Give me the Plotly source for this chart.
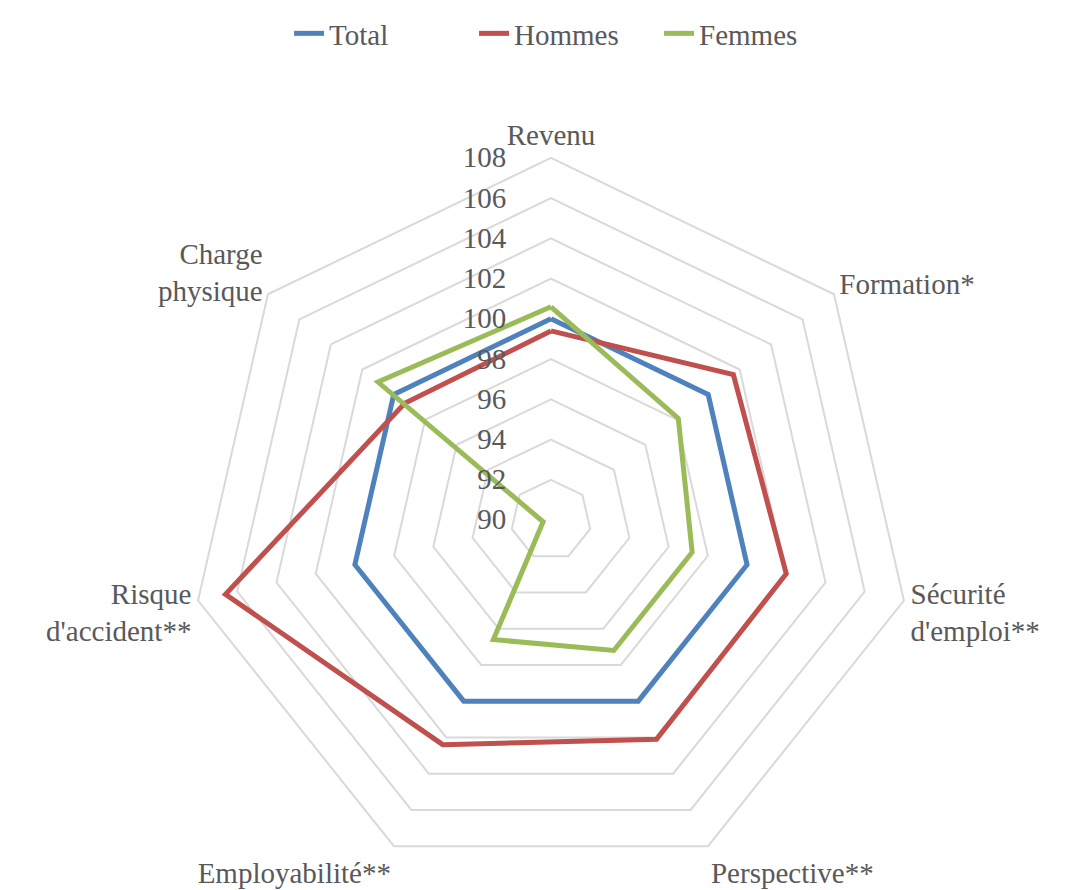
# -*- coding: utf-8 -*-
"""
Graphique radar : indices de qualité de l'emploi (Total / Hommes / Femmes).
"""

import plotly.graph_objects as go

# Axes du radar (sens horaire à partir du haut)
categories = [
    "Revenu",
    "Formation*",
    "Sécurité<br>d'emploi**",
    "Perspective**",
    "Employabilité**",
    "Risque<br>d'accident**",
    "Charge<br>physique",
]

# Valeurs
total = [100, 100, 100, 100, 100, 100, 100]
hommes = [99.4, 101.6, 102.0, 102.1, 102.4, 106.6, 99.3]
femmes = [100.6, 98.1, 97.2, 97.2, 96.6, 90.4, 101.0]

series_names = ["Total", "Hommes", "Femmes"]
series_colors = ["#4F81BD", "#C0504D", "#9BBB59"]

radial_ticks = [90, 92, 94, 96, 98, 100, 102, 104, 106, 108]

FONT = "Liberation Serif, Times New Roman, serif"
TEXT_COLOR = "#595959"
GRID_COLOR = "#D9D9D9"


def create_radar_chart() -> go.Figure:
    """
    Crée le graphique radar à grille polygonale.

    Returns:
        Plotly Figure
    """
    fig = go.Figure()

    for name, values, color in zip(series_names, [total, hommes, femmes], series_colors):
        # on referme le polygone en répétant le premier point
        fig.add_trace(
            go.Scatterpolar(
                r=values + values[:1],
                theta=categories + categories[:1],
                mode="lines",
                name=name,
                line=dict(color=color, width=5),
                hovertemplate="%{theta}: %{r:.1f}<extra>" + name + "</extra>",
            )
        )

    fig.update_layout(
        width=1070,
        height=890,
        margin=dict(l=0, r=0, t=0, b=0),
        paper_bgcolor="white",
        plot_bgcolor="white",
        font=dict(family=FONT, size=29, color=TEXT_COLOR),
        showlegend=True,
        legend=dict(
            orientation="h",
            x=0.522,
            xanchor="center",
            y=1.0,
            yanchor="top",
            font=dict(family=FONT, size=29, color=TEXT_COLOR),
            entrywidth=140,
            entrywidthmode="pixels",
        ),
        polar=dict(
            gridshape="linear",
            bgcolor="white",
            domain=dict(x=[0.1691, 0.8458], y=[0.018, 0.8315]),
            radialaxis=dict(
                range=[90, 108],
                tickvals=radial_ticks,
                ticktext=[str(v) for v in radial_ticks],
                angle=90,
                tickangle=90,
                side="counterclockwise",
                showline=False,
                # graduations invisibles pour décaler les libellés à gauche de l'axe
                ticks="outside",
                ticklen=34,
                tickcolor="rgba(0,0,0,0)",
                showgrid=True,
                gridcolor=GRID_COLOR,
                gridwidth=2,
                tickfont=dict(family=FONT, size=29, color=TEXT_COLOR),
            ),
            angularaxis=dict(
                rotation=90,
                direction="clockwise",
                showgrid=False,
                showline=True,
                linecolor=GRID_COLOR,
                linewidth=2,
                ticks="",
                tickfont=dict(family=FONT, size=29, color=TEXT_COLOR),
            ),
        ),
    )

    return fig


fig = create_radar_chart()
fig.write_html("out.html")
